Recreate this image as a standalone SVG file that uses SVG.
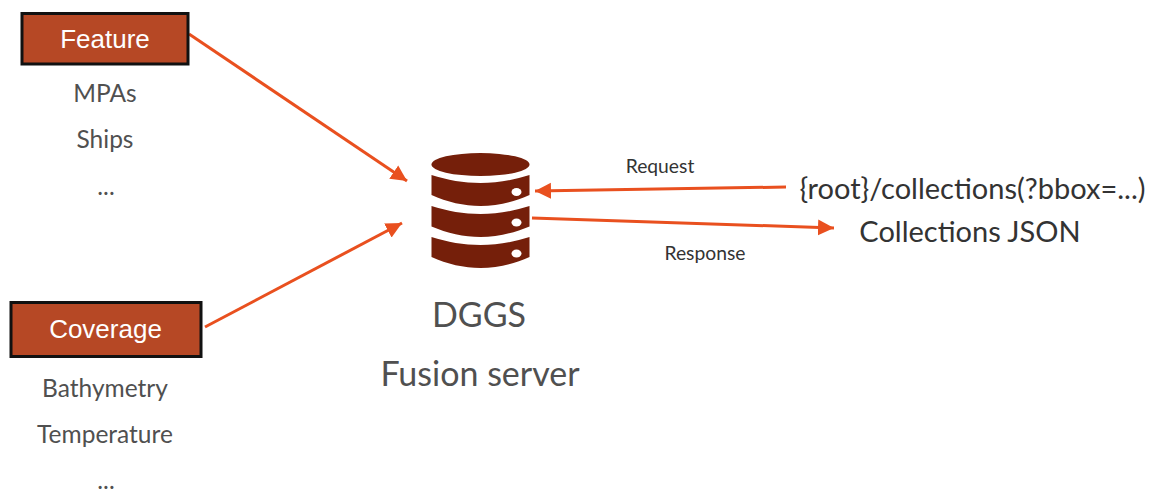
<svg xmlns="http://www.w3.org/2000/svg" width="1159" height="489" viewBox="0 0 1159 489">
<style>
.box{fill:#b64825;stroke:#111;stroke-width:3}
.bt{font-family:"Liberation Sans",Arial,sans-serif;font-size:26px;fill:#fff;text-anchor:middle}
.l{font-family:Lato,"Liberation Sans",sans-serif;fill:#505050;text-anchor:middle}
.s{font-size:24.500px}
.m{font-size:34px}
.r{font-size:29px;fill:#333}
.t{font-size:19.300px;fill:#333}
.c{stroke:#e9501f;stroke-width:3;fill:none;marker-end:url(#a)}
.db{fill:#751f0a}
.h{fill:#fff}
</style>
<defs>
<marker id="a" markerUnits="userSpaceOnUse" markerWidth="17" markerHeight="18" refX="16" refY="9" orient="auto">
<path d="M0 1L16 9L0 17Z" fill="#e9501f"/>
</marker>
</defs>
<rect width="1159" height="489" fill="#fff"/>
<g id="connectors">
<path class="c" d="M189 34L407 181"/>
<path class="c" d="M205 327L402 223"/>
<path class="c" d="M786 187L535 191"/>
<path class="c" d="M532 218L834 228"/>
<text class="l t" x="660" y="173">Request</text>
<text class="l t" x="705" y="260">Response</text>
</g>
<g id="feature">
<rect class="box" x="22" y="13.500" width="166" height="50.500"/>
<text class="bt" x="105" y="48">Feature</text>
</g>
<g id="feature-items">
<text class="l s" x="105" y="102">MPAs</text>
<text class="l s" x="105" y="148">Ships</text>
<text class="l s" x="106" y="195">...</text>
</g>
<g id="coverage">
<rect class="box" x="11" y="302.500" width="190" height="54"/>
<text class="bt" x="105.500" y="338">Coverage</text>
</g>
<g id="coverage-items">
<text class="l s" x="105" y="397">Bathymetry</text>
<text class="l s" x="105" y="443">Temperature</text>
<text class="l s" x="106" y="488.500">...</text>
</g>
<g id="dggs">
<ellipse class="db" cx="480.500" cy="164.500" rx="49" ry="11.500"/>
<path class="db" d="M431.500 175C447 180 464 183 480.500 183S514 180 529.500 175V195C514 202 497 206 480.500 206S447 202 431.500 195Z"/>
<path class="db" d="M431.500 206C447 211 464 214 480.500 214S514 211 529.500 206V226.500C514 233 497 237 480.500 237S447 233 431.500 226.500Z"/>
<path class="db" d="M431.500 237C447 242 464 245 480.500 245S514 242 529.500 237V257C514 264 497 268 480.500 268S447 264 431.500 257Z"/>
<ellipse class="h" cx="516.500" cy="192" rx="5" ry="4"/>
<ellipse class="h" cx="516.500" cy="222.500" rx="5" ry="4"/>
<ellipse class="h" cx="516.500" cy="253.500" rx="5" ry="4"/>
<text class="l m" x="479" y="327">DGGS</text>
<text class="l m" x="480" y="386">Fusion server</text>
</g>
<g id="request-target"><text class="l r" x="972.500" y="199">{root}/collections(?bbox=...)</text></g>
<g id="response-target"><text class="l r" x="970" y="242">Collections JSON</text></g>
</svg>
